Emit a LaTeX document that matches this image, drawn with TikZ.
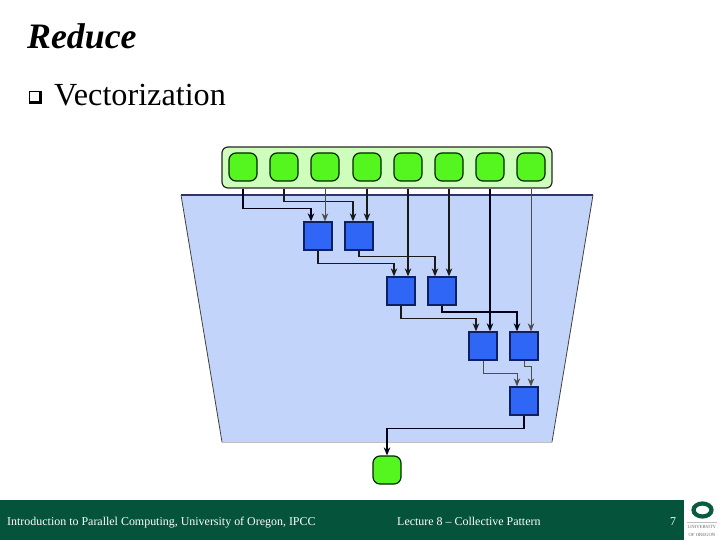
\documentclass[tikz,border=0pt]{standalone}
\usepackage{fontspec}
\setmainfont{Liberation Serif}
\usetikzlibrary{arrows.meta,shapes.geometric}
\definecolor{barlight}{HTML}{CFFDBB}
\definecolor{datagreen}{HTML}{55F51F}
\definecolor{opblue}{HTML}{2F66F5}
\definecolor{opedge}{HTML}{0F2060}
\definecolor{vecblue}{HTML}{C3D4FA}
\definecolor{footgreen}{HTML}{04533A}
\definecolor{logogreen}{HTML}{0A5C40}
\tikzset{
  databox/.style={draw=black!85!green,line width=1.2pt,rounded corners=7pt,fill=datagreen,minimum width=28pt,minimum height=28pt,inner sep=0pt},
  opbox/.style={draw=opedge,line width=1.3pt,fill=opblue,minimum width=28pt,minimum height=28pt,inner sep=0pt},
  thinlink/.style={-{Stealth[length=8pt,width=6.5pt,inset=2.5pt]},line width=0.8pt,draw=black!70},
  midlink/.style={-{Stealth[length=8pt,width=6.5pt,inset=2.5pt]},line width=1.1pt,draw=black!90},
  heavylink/.style={-{Stealth[length=8pt,width=6.5pt,inset=2.5pt]},line width=1.5pt,draw=black!90!blue},
  foottext/.style={text=white,font=\fontsize{11.95}{14}\selectfont,inner sep=0pt}
}
\begin{document}
\begin{tikzpicture}[x=1pt,y=-1pt]
  \useasboundingbox (0,0) rectangle (720,540);
  % slide
  \node[anchor=west,inner sep=0pt,font=\fontsize{35.8}{40}\selectfont\bfseries\itshape] (title) at (27,36.5) {Reduce};
  \fill[black] (29,91) rectangle (42,104);
  \node[draw=black,line width=0.9pt,fill=white,minimum size=10.5pt,inner sep=0pt] (bullet) at (34.5,96.5) {};
  \node[anchor=west,inner sep=0pt,font=\fontsize{32.2}{36}\selectfont] (item) at (54,95.5) {Vectorization};
  % vector region
  \fill[vecblue] (181,195) -- (593,195) -- (552,442) -- (222,442) -- cycle;
  \draw[black!65!blue!60!gray,line width=1.2pt] (181,195) -- (593,195);
  \draw[black!75,line width=0.8pt] (222,442) -- (181,195) (593,195) -- (552,442);
  \draw[black!25,line width=0.8pt] (222,442) -- (552,442);
  % inputs
  \node[draw=black!85,line width=1.2pt,rounded corners=6pt,fill=barlight,minimum width=330pt,minimum height=41pt,inner sep=0pt] (bar) at (387,167.5) {};
  \node[databox] (in1) at (243,167) {};
  \node[databox] (in2) at (284,167) {};
  \node[databox] (in3) at (325,167) {};
  \node[databox] (in4) at (367,167) {};
  \node[databox] (in5) at (408,167) {};
  \node[databox] (in6) at (449,167) {};
  \node[databox] (in7) at (490,167) {};
  \node[databox] (in8) at (531,167) {};
  % operations
  \node[opbox] (opa) at (318,236) {};
  \node[opbox] (opb) at (359,236) {};
  \node[opbox] (opc) at (401,291) {};
  \node[opbox] (opd) at (442,291) {};
  \node[opbox] (ope) at (483,346) {};
  \node[opbox] (opf) at (524,346) {};
  \node[opbox] (opg) at (524,401) {};
  \node[databox] (result) at (387,470) {};

  \draw[heavylink] (in1.south |- bar.south) -- ++(0,20) -| ([xshift=-7pt]opa.north);
  \draw[midlink] (in2.south |- bar.south) -- ++(0,13) -| ([xshift=-6pt]opb.north);
  \draw[thinlink] (in3.south |- bar.south) -- (in3.south |- opa.north);
  \draw[midlink] (in4.south |- bar.south) -- (in4.south |- opb.north);
  \draw[midlink] (in5.south |- bar.south) -- (in5.south |- opc.north);
  \draw[midlink] (in6.south |- bar.south) -- (in6.south |- opd.north);
  \draw[heavylink] (in7.south |- bar.south) -- (in7.south |- ope.north);
  \draw[thinlink] (in8.south |- bar.south) -- (in8.south |- opf.north);
  \draw[midlink] (opa.south) -- ++(0,13) -| ([xshift=-7pt]opc.north);
  \draw[midlink] (opb.south) -- ++(0,6) -| ([xshift=-7pt]opd.north);
  \draw[midlink] (opc.south) -- ++(0,13) -| ([xshift=-7pt]ope.north);
  \draw[heavylink] (opd.south) -- ++(0,6.5) -| ([xshift=-7pt]opf.north);
  \draw[thinlink] (ope.south) -- ++(0,13) -| ([xshift=-7pt]opg.north);
  \draw[thinlink] (opf.south) -- ++(0,6) -| ([xshift=7pt]opg.north);
  \draw[heavylink] (opg.south) -- ++(0,13) -| (result.north);

  % footer
  \node[fill=footgreen,minimum width=684pt,minimum height=40pt,inner sep=0pt] (foot) at (342,520) {};
  \node[foottext,anchor=base west] (course) at (7,525) {Introduction to Parallel Computing, University of Oregon, IPCC};
  \node[foottext,anchor=base west] (lecture) at (397,525) {Lecture 8 -- Collective Pattern};
  \node[foottext,anchor=base] (page) at (673,525) {7};
  \node[draw=logogreen,line width=4.2pt,ellipse,minimum width=18pt,minimum height=13pt,inner sep=0pt] (logo) at (702.5,510) {};
  \draw[black!25,line width=0.5pt] (687,522.5) -- (717,522.5);
  \node[text=black!60,font=\fontsize{4.7}{7.5}\selectfont,align=center,inner sep=0pt] (logotext) at (702,531) {UNIVERSITY\\OF OREGON};
\end{tikzpicture}
\end{document}
